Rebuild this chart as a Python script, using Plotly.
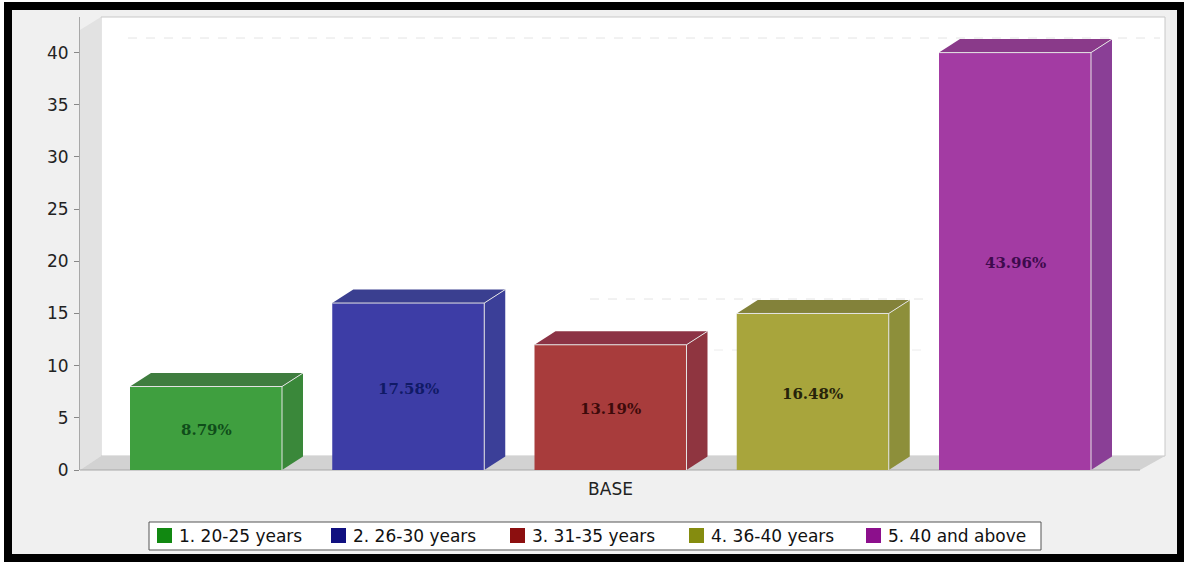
import plotly.graph_objects as go

categories = ["1. 20-25 years", "2. 26-30 years", "3. 31-35 years", "4. 36-40 years", "5. 40 and above"]
values = [8, 16, 12, 15, 40]
percent_labels = ["8.79%", "17.58%", "13.19%", "16.48%", "43.96%"]
y_ticks = [0, 5, 10, 15, 20, 25, 30, 35, 40]
x_tick_label = "BASE"

front_colors = ["#3f9f3f", "#3d3da6", "#a83c3c", "#a8a53c", "#a33ba3"]
top_colors = ["#3f7d3f", "#3a3f90", "#8c3345", "#83823a", "#8a3a8a"]
side_colors = ["#3a883a", "#3b3f98", "#8f3540", "#8d8f3a", "#8a3f96"]
swatch_colors = ["#118811", "#101080", "#8c0f0f", "#858c0f", "#8c0f8c"]
label_colors = ["#0f4d1a", "#101a66", "#3d0a0a", "#26230a", "#3d0a4d"]
legend_swatch_px = [157, 331, 510, 689, 866]

W, H = 1184, 564
L, R, T, B = 80, 1165, 17, 470
bar_step_px, first_bar_px, bar_px = 202.25, 206, 152
depth_x_px, depth_y_px = 21, 13.5
y_scale = (470 - 52.6) / 40

x_range = [(L - first_bar_px) / bar_step_px, (R - first_bar_px) / bar_step_px]
y_range = [0, (B - T) / y_scale]
half = bar_px / bar_step_px / 2
dx = depth_x_px / bar_step_px
dy = depth_y_px / y_scale


def px(x):
    return (x - L) / (R - L)


def py(y):
    return (B - y) / (B - T)


def poly(points):
    return "M" + " L".join(f"{px(a):.5f},{py(b):.5f}" for a, b in points) + " Z"


fig = go.Figure()

for i, (name, v) in enumerate(zip(categories, values)):
    fig.add_bar(
        x=[i], y=[v], width=[2 * half], name=name,
        marker=dict(color=front_colors[i], line=dict(width=0)),
        hoverinfo="skip", showlegend=False,
    )

for i, v in enumerate(values):
    l, r = i - half, i + half
    fig.add_scatter(
        x=[l, r, r + dx, l + dx, l], y=[v, v, v + dy, v + dy, v],
        mode="lines", fill="toself", fillcolor=top_colors[i], line=dict(width=0),
        showlegend=False, hoverinfo="skip",
    )
    fig.add_scatter(
        x=[r, r + dx, r + dx, r, r], y=[0, dy, v + dy, v + 0, 0],
        mode="lines", fill="toself", fillcolor=side_colors[i], line=dict(width=0),
        showlegend=False, hoverinfo="skip",
    )
    fig.add_scatter(
        x=[l, r, r, None, r, r + dx], y=[v, v, 0, None, v, v + dy],
        mode="lines", line=dict(color="#e4e4e4", width=1),
        showlegend=False, hoverinfo="skip",
    )

shapes = [
    # light panel inside the frame
    dict(type="rect", x0=px(8), x1=px(1181), y0=py(6), y1=py(558), xref="paper", yref="paper",
         fillcolor="#f0f0f0", line=dict(width=0), layer="below"),
    # background wall
    dict(type="path", path=poly([(101, 17), (1165, 17), (1165, 456), (101, 456)]), fillcolor="#ffffff",
         line=dict(color="#c8c8c8", width=1), xref="paper", yref="paper", layer="below"),
    # left wall
    dict(type="path", path=poly([(80, 470), (80, 30), (101, 17), (101, 456)]), fillcolor="#e2e2e2",
         line=dict(width=0), xref="paper", yref="paper", layer="below"),
    # floor
    dict(type="path", path=poly([(80, 470), (101, 456), (1165, 456), (1140, 470)]), fillcolor="#d2d2d2",
         line=dict(width=0), xref="paper", yref="paper", layer="below"),
    # base line
    dict(type="line", x0=px(80), x1=px(1140), y0=0, y1=0, xref="paper", yref="paper",
         line=dict(color="#a8a8a8", width=1), layer="below"),
    # visible back-wall grid lines
    dict(type="line", x0=px(128), x1=px(1160), y0=py(38), y1=py(38), xref="paper", yref="paper",
         line=dict(color="#e4e4e4", width=1, dash="dash"), layer="below"),
    dict(type="line", x0=px(590), x1=px(925), y0=py(299), y1=py(299), xref="paper", yref="paper",
         line=dict(color="#e4e4e4", width=1, dash="dash"), layer="below"),
    dict(type="line", x0=px(660), x1=px(925), y0=py(350), y1=py(350), xref="paper", yref="paper",
         line=dict(color="#ececec", width=1, dash="dash"), layer="below"),
    # legend box
    dict(type="rect", x0=px(149), x1=px(1041), y0=py(522), y1=py(550), xref="paper", yref="paper",
         fillcolor="#ffffff", line=dict(color="#555555", width=1), layer="above"),
    # outer black frame
    dict(type="rect", x0=px(8), x1=px(1181), y0=py(6), y1=py(558), xref="paper", yref="paper",
         line=dict(color="#000000", width=8), fillcolor="rgba(0,0,0,0)", layer="above"),
]

annotations = []
for i, (label, v) in enumerate(zip(percent_labels, values)):
    annotations.append(dict(x=i, y=v / 2, xref="x", yref="y", text=label, showarrow=False, yshift=-2,
                            font=dict(family="DejaVu Serif", size=15, weight="bold", color=label_colors[i])))
for i, name in enumerate(categories):
    sx = legend_swatch_px[i]
    shapes.append(dict(type="rect", x0=px(sx), x1=px(sx + 15), y0=py(528), y1=py(543), xref="paper", yref="paper",
                       fillcolor=swatch_colors[i], line=dict(width=0), layer="above"))
    annotations.append(dict(x=px(sx + 20), y=py(536), xref="paper", yref="paper", text=name, showarrow=False,
                            xanchor="left", yanchor="middle", font=dict(size=17, color="#111111")))

fig.update_layout(
    width=W, height=H, autosize=False,
    margin=dict(l=L, r=W - R, t=T, b=H - B),
    paper_bgcolor="#ffffff", plot_bgcolor="rgba(0,0,0,0)",
    barmode="overlay", shapes=shapes, annotations=annotations, showlegend=False,
    font=dict(family="DejaVu Sans", size=17, color="#222222"),
    xaxis=dict(range=x_range, tickmode="array", tickvals=[2], ticktext=[x_tick_label],
               showgrid=False, zeroline=False, showline=False, ticks="outside", ticklen=4, tickcolor="rgba(0,0,0,0)",
               tickfont=dict(size=17, color="#222222")),
    yaxis=dict(range=y_range, tickmode="array", tickvals=y_ticks, showgrid=False, zeroline=False,
               showline=True, linecolor="#a8a8a8", ticks="outside", ticklen=5, tickcolor="#888888",
               ticklabelstandoff=2, tickfont=dict(size=17, color="#222222")),
)

fig.write_html("out.html", config={"displayModeBar": False},
               post_script="document.body.style.margin='0';document.documentElement.style.overflow='hidden';window.dispatchEvent(new Event('resize'));")
